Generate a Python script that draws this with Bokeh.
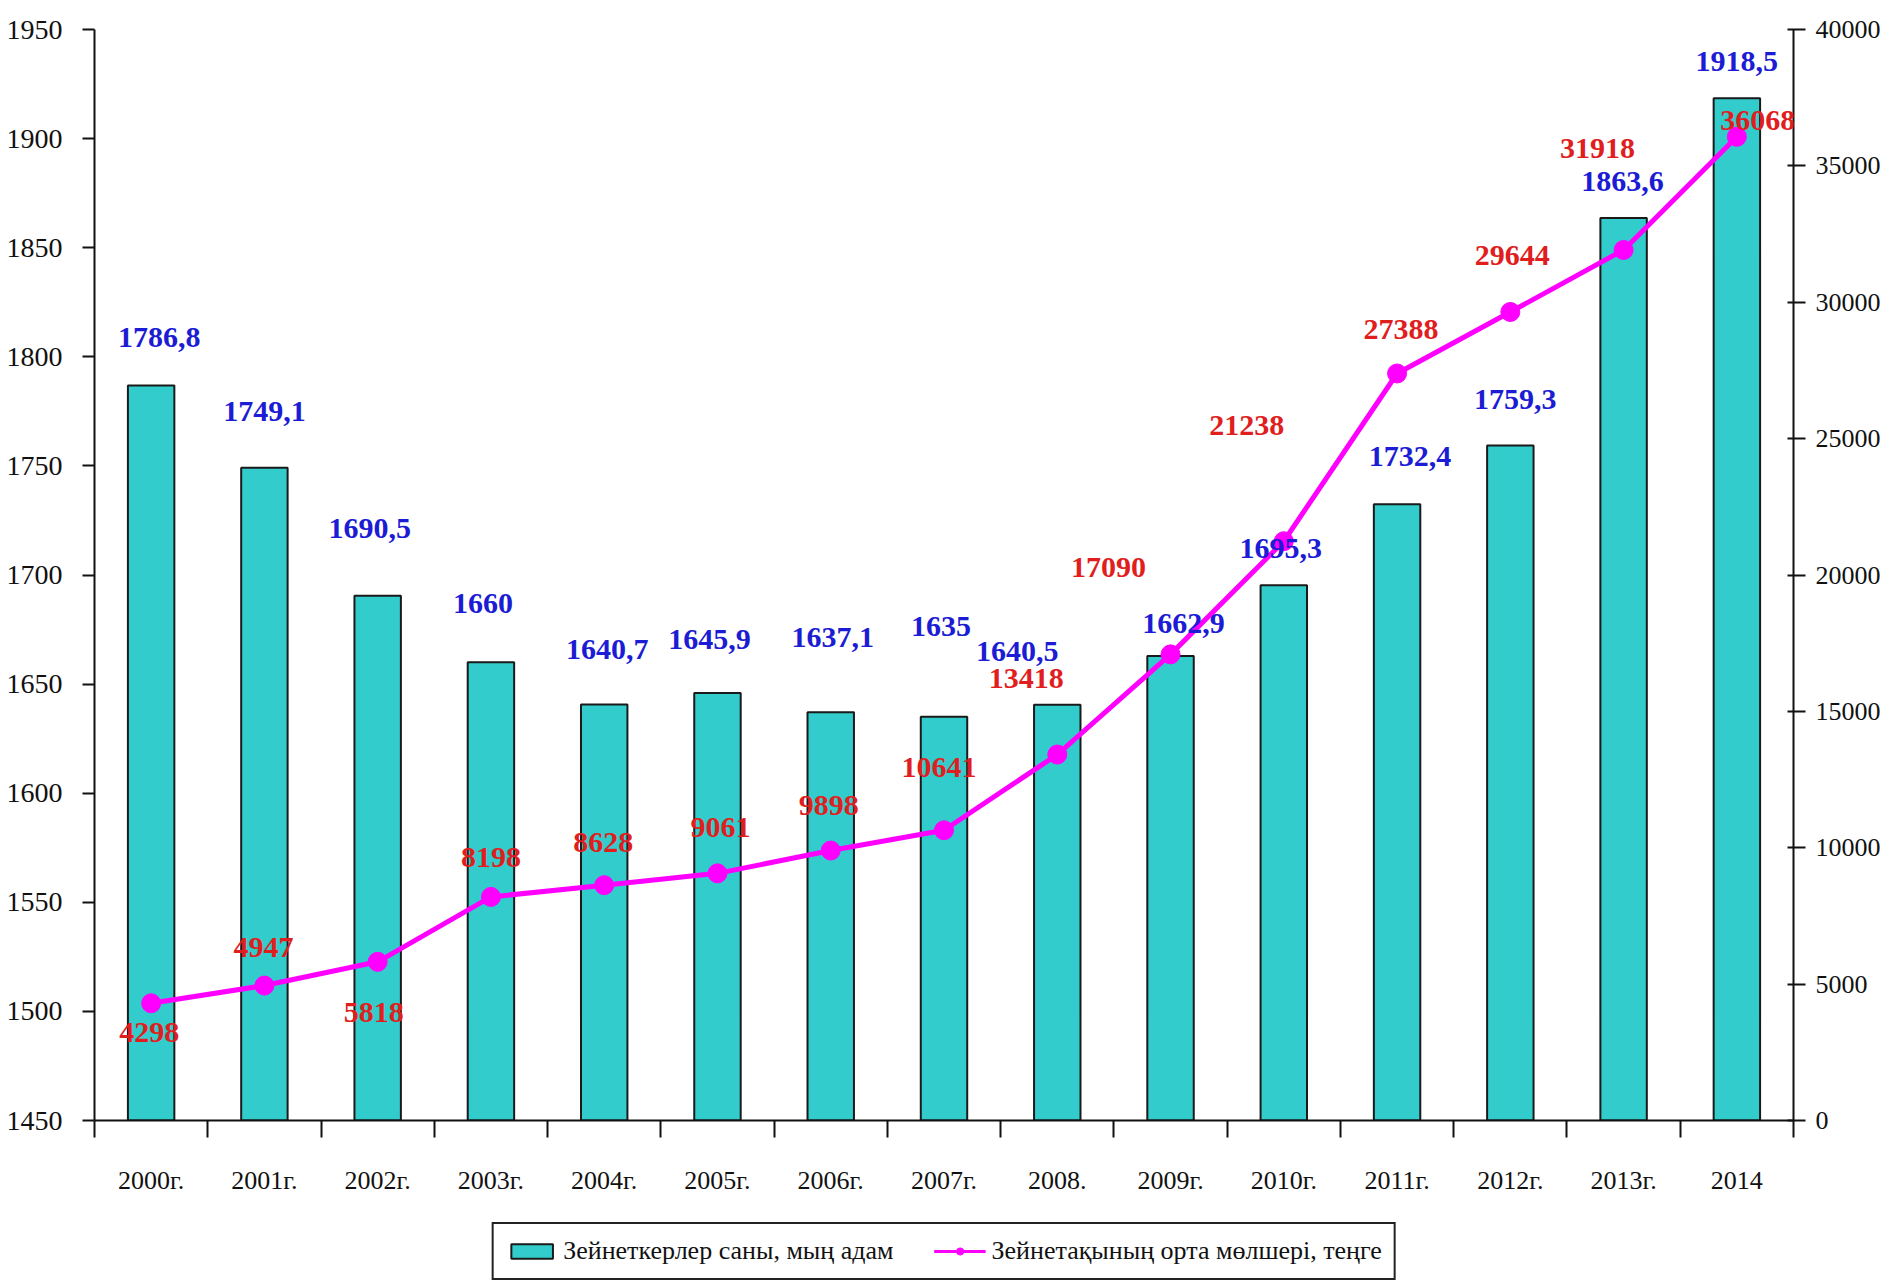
from bokeh.plotting import figure
from bokeh.layouts import column
from bokeh.models import (Range1d, LinearAxis, FixedTicker, ColumnDataSource,
                          Legend, LegendItem, LabelSet)
from bokeh.core.properties import value
from bokeh.embed import file_html
from bokeh.resources import INLINE

# ---- data ----
years = ["2000г.", "2001г.", "2002г.", "2003г.", "2004г.", "2005г.", "2006г.",
         "2007г.", "2008.", "2009г.", "2010г.", "2011г.", "2012г.", "2013г.", "2014"]
employees = [1786.8, 1749.1, 1690.5, 1660, 1640.7, 1645.9, 1637.1, 1635,
             1640.5, 1662.9, 1695.3, 1732.4, 1759.3, 1863.6, 1918.5]
wages = [4298, 4947, 5818, 8198, 8628, 9061, 9898, 10641, 13418, 17090,
         21238, 27388, 29644, 31918, 36068]
left_ticks = [1450, 1500, 1550, 1600, 1650, 1700, 1750, 1800, 1850, 1900, 1950]
right_ticks = [0, 5000, 10000, 15000, 20000, 25000, 30000, 35000, 40000]
series_names = ["Зейнеткерлер саны, мың адам", "Зейнетақының орта мөлшері, теңге"]

# ---- label placement (style, screen pixels; positive dy = upwards) ----
bar_dx = [8, 0, -8, -8, 3, -8, 2, -3, -40, 13, -3, 13, 5, -1, 0]
bar_dy = [48, 56, 67, 59, 55, 54, 75, 90, 53, 32, 37, 48, 46, 37, 37]
wage_dx = [-2, -1, -4, 0, -1, 3, -2, -5, -31, -62, -37, 4, 2, -26, 21]
wage_dy = [-29, 38, -51, 39, 43, 46, 45, 63, 76, 87, 116, 44, 56, 101, 16]

n = len(years)
xs = [i + 0.5 for i in range(n)]
emp_labels = [f"{v:g}".replace(".", ",") for v in employees]
wage_labels = [str(v) for v in wages]

src = ColumnDataSource(dict(x=xs, emp=employees, wage=wages, emp_lab=emp_labels,
                            wage_lab=wage_labels, bdx=bar_dx, bdy=bar_dy,
                            wdx=wage_dx, wdy=wage_dy))

FONT = "Liberation Serif"
TEAL = "#33CCCC"
MAGENTA = "#FF00FF"
INK = "#111111"

p = figure(width=1889, height=1200, output_backend="svg", toolbar_location=None,
           x_range=Range1d(0, n), y_range=Range1d(left_ticks[0], left_ticks[-1]),
           min_border_left=94, min_border_right=96, min_border_top=29,
           min_border_bottom=80, x_axis_location=None, y_axis_location=None)
p.outline_line_color = None
p.grid.visible = False
p.extra_y_ranges = {"wage": Range1d(right_ticks[0], right_ticks[-1])}

# x axis: labels at category centres, ticks at category boundaries
xaxis = LinearAxis(ticker=FixedTicker(ticks=xs, minor_ticks=list(range(n + 1))),
                   major_label_overrides={x: y for x, y in zip(xs, years)})
xaxis.major_tick_line_color = None
xaxis.major_tick_out = 0
xaxis.major_tick_in = 0
xaxis.minor_tick_out = 17
xaxis.minor_tick_in = 0
xaxis.minor_tick_line_color = INK
xaxis.minor_tick_line_width = 2
xaxis.axis_line_color = INK
xaxis.axis_line_width = 2
xaxis.major_label_standoff = 28
xaxis.major_label_text_font = FONT
xaxis.major_label_text_font_size = "26px"
xaxis.major_label_text_color = INK
p.add_layout(xaxis, "below")

# left axis
yaxis = LinearAxis(ticker=FixedTicker(ticks=left_ticks))
yaxis.major_tick_out = 12
yaxis.major_tick_in = 0
yaxis.minor_tick_line_color = None
yaxis.major_tick_line_width = 2
yaxis.major_tick_line_color = INK
yaxis.axis_line_color = INK
yaxis.axis_line_width = 2
yaxis.major_label_standoff = 20
yaxis.major_label_text_font = FONT
yaxis.major_label_text_font_size = "28px"
yaxis.major_label_text_color = INK
p.add_layout(yaxis, "left")

# right axis
raxis = LinearAxis(y_range_name="wage", ticker=FixedTicker(ticks=right_ticks))
raxis.major_tick_out = 12
raxis.major_tick_in = 6
raxis.minor_tick_line_color = None
raxis.major_tick_line_width = 2
raxis.major_tick_line_color = INK
raxis.axis_line_color = INK
raxis.axis_line_width = 2
raxis.major_label_standoff = 10
raxis.major_label_text_font = FONT
raxis.major_label_text_font_size = "26px"
raxis.major_label_text_color = INK
p.add_layout(raxis, "right")

# bars
p.vbar(x="x", top="emp", bottom=left_ticks[0], width=0.41, source=src,
       fill_color=TEAL, line_color="#1a1a1a", line_width=2)

# bar labels
p.add_layout(LabelSet(x="x", y="emp", text="emp_lab", x_offset="bdx", y_offset="bdy",
                      source=src, text_align="center", text_baseline="middle",
                      text_color="#1c1cd4", text_font=value(FONT),
                      text_font_style="bold", text_font_size="30px"))

# wage line
p.line(x="x", y="wage", source=src, y_range_name="wage",
       line_color=MAGENTA, line_width=5)
p.scatter(x="x", y="wage", source=src, y_range_name="wage", size=19,
          marker="circle", fill_color=MAGENTA, line_color=MAGENTA)

p.add_layout(LabelSet(x="x", y="wage", text="wage_lab", x_offset="wdx",
                      y_offset="wdy", source=src, y_range_name="wage",
                      text_align="center", text_baseline="middle",
                      text_color="#e01e1e", text_font=value(FONT),
                      text_font_style="bold", text_font_size="30px"))

# legend strip below the chart (legend-key renderers hold no plotted points)
lf = figure(width=1889, height=80, output_backend="svg", toolbar_location=None,
            x_range=Range1d(0, 1), y_range=Range1d(0, 1),
            min_border_left=94, min_border_right=96, min_border_top=0,
            min_border_bottom=0, x_axis_location=None, y_axis_location=None)
lf.outline_line_color = None
lf.grid.visible = False
key = ColumnDataSource(dict(x=[float("nan")], y=[float("nan")]))
lb = lf.vbar(x="x", top="y", width=0.41, source=key, fill_color=TEAL,
             line_color="#1a1a1a", line_width=2)
ll = lf.line(x="x", y="y", source=key, line_color=MAGENTA, line_width=3)
lp = lf.scatter(x="x", y="y", source=key, marker="circle", fill_color=MAGENTA,
                line_color=MAGENTA)

legend = Legend(items=[LegendItem(label=series_names[0], renderers=[lb]),
                       LegendItem(label=series_names[1], renderers=[ll, lp])],
                orientation="horizontal", location="bottom_center")
legend.border_line_color = "#222222"
legend.border_line_alpha = 1.0
legend.border_line_width = 2
legend.label_text_font = FONT
legend.label_text_font_size = "26px"
legend.label_text_color = INK
legend.glyph_width = 52
legend.glyph_height = 18
legend.label_height = 23
legend.label_standoff = 6
legend.spacing = 40
legend.padding = 12
legend.margin = 0
legend.background_fill_color = "white"
legend.background_fill_alpha = 1.0
lf.add_layout(legend)

layout = column(p, lf, spacing=0)
open("out.html", "w").write(file_html(layout, INLINE))
